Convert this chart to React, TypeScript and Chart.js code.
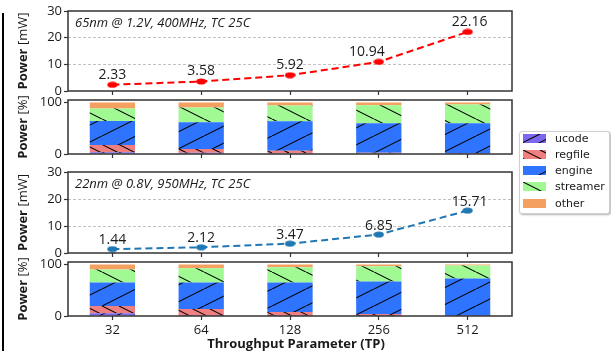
import React, { useEffect, useRef } from 'react';
import { Chart, registerables } from 'chart.js';

Chart.register(...registerables);

// ---------------- data ----------------
const categories = ['32', '64', '128', '256', '512'];
const powerTicks = [0, 10, 20, 30];
const shareTicks = [0, 100];

const power65nm = [2.33, 3.58, 5.92, 10.94, 22.16];
const power22nm = [1.44, 2.12, 3.47, 6.85, 15.71];

const componentNames = ['ucode', 'regfile', 'engine', 'streamer', 'other'];

const ucode65 = [3.5, 2.5, 1.5, 1.0, 0.5];
const regfile65 = [13.8, 7.0, 4.7, 1.5, 0.8];
const engine65 = [46.8, 52.0, 57.3, 57.1, 58.3];
const streamer65 = [24.4, 29.0, 30.7, 35.3, 36.6];
const other65 = [11.5, 9.5, 5.8, 5.1, 3.8];

const ucode22 = [5.5, 0.5, 0.5, 0.3, 0.1];
const regfile22 = [14.0, 13.2, 7.2, 3.6, 0.5];
const engine22 = [45.7, 51.6, 57.5, 63.2, 72.3];
const streamer22 = [25.0, 27.6, 29.6, 29.7, 25.1];
const other22 = [9.8, 7.1, 5.2, 3.2, 2.0];

const note65 = '65nm @ 1.2V, 400MHz, TC 25C';
const note22 = '22nm @ 0.8V, 950MHz, TC 25C';

// ---------------- styles ----------------
const W = 611;
const H = 351;
const FAM = "'Open Sans', sans-serif";
const TXT = '#1a1a1a';
const AX = '#333333';
const componentColors = ['#7b68ee', '#f08080', '#2f74ff', '#a0f993', '#f4a060'];
const componentHatches = ['//', '\\\\', '/', '\\', ''];
const lineRed = '#ff0000';
const lineBlue = '#1f77b4';

function makeFill(ctx: CanvasRenderingContext2D, color: string, hatch: string): any {
  if (!hatch) return color;
  const tw = 34;
  const th = 17;
  const c = document.createElement('canvas');
  c.width = tw;
  c.height = th;
  const g = c.getContext('2d')!;
  g.fillStyle = color;
  g.fillRect(0, 0, tw, th);
  g.strokeStyle = '#000';
  g.lineWidth = 1.1;
  const n = hatch.length;
  const step = tw / n;
  const rising = hatch[0] === '/';
  g.beginPath();
  for (let k = -n - 1; k <= n + 1; k++) {
    const x0 = k * step;
    if (rising) {
      g.moveTo(x0, th);
      g.lineTo(x0 + tw, 0);
    } else {
      g.moveTo(x0, 0);
      g.lineTo(x0 + tw, th);
    }
  }
  g.stroke();
  return ctx.createPattern(c, 'repeat');
}

function makeMarker(color: string): HTMLCanvasElement {
  const c = document.createElement('canvas');
  c.width = 11;
  c.height = 7;
  const g = c.getContext('2d')!;
  g.fillStyle = color;
  g.beginPath();
  g.ellipse(5.5, 3.5, 5.2, 3.1, 0, 0, Math.PI * 2);
  g.fill();
  return c;
}

const decor = {
  id: 'decor',
  afterDatasetsDraw(chart: any, _args: any, opts: any) {
    const { ctx, chartArea: a } = chart;
    ctx.save();
    // frame
    ctx.strokeStyle = AX;
    ctx.lineWidth = 1.5;
    ctx.strokeRect(a.left, a.top, a.right - a.left, a.bottom - a.top);
    ctx.fillStyle = TXT;
    // value labels
    if (opts.values) {
      const meta = chart.getDatasetMeta(0);
      ctx.font = `14px ${FAM}`;
      ctx.textAlign = 'center';
      ctx.textBaseline = 'alphabetic';
      meta.data.forEach((p: any, i: number) => {
        const dx = opts.dx ? opts.dx[i] : 0;
        ctx.fillText(opts.values[i].toFixed(2), p.x + dx, p.y - opts.dy);
      });
    }
    // note
    if (opts.note) {
      ctx.font = `italic 13px ${FAM}`;
      ctx.textAlign = 'left';
      ctx.textBaseline = 'alphabetic';
      ctx.fillText(opts.note, a.left + 7, a.top + 16);
    }
    // x title
    if (opts.xTitle) {
      ctx.font = `bold 13px ${FAM}`;
      ctx.textAlign = 'center';
      ctx.textBaseline = 'middle';
      ctx.fillText(opts.xTitle, (a.left + a.right) / 2 + 6, 344);
    }
    // y title (bold "Power" + regular unit)
    if (opts.unit) {
      ctx.translate(23, (a.top + a.bottom) / 2);
      ctx.rotate(-Math.PI / 2);
      const b = `bold 13px ${FAM}`;
      const r = `13px ${FAM}`;
      ctx.font = b;
      const w1 = ctx.measureText('Power ').width;
      ctx.font = r;
      const w2 = ctx.measureText(opts.unit).width;
      const x0 = -(w1 + w2) / 2;
      ctx.textAlign = 'left';
      ctx.textBaseline = 'middle';
      ctx.font = b;
      ctx.fillText('Power ', x0, 0);
      ctx.font = r;
      ctx.fillText(opts.unit, x0 + w1, 0);
    }
    ctx.restore();
  },
};

function xScale(axisHeight: number, showLabels: boolean, stacked: boolean) {
  return {
    type: 'category',
    offset: true,
    stacked,
    grid: {
      display: true,
      offset: false,
      drawOnChartArea: false,
      drawTicks: true,
      tickLength: 4,
      tickColor: AX,
      tickWidth: 1.2,
    },
    border: { display: false },
    ticks: {
      display: showLabels,
      font: { family: FAM, size: 13 },
      color: TXT,
      padding: 2,
      maxRotation: 0,
      autoSkip: false,
    },
    afterFit: (s: any) => {
      s.height = axisHeight;
    },
  };
}

function yPowerScale() {
  return {
    min: 0,
    max: 30,
    afterBuildTicks: (s: any) => {
      s.ticks = powerTicks.map((v) => ({ value: v }));
    },
    grid: {
      color: (c: any) =>
        c.tick && c.tick.value > 0 && c.tick.value < 30 ? '#c2c2c2' : 'rgba(0,0,0,0)',
      lineWidth: 1,
      drawTicks: true,
      tickLength: 4,
      tickColor: AX,
      tickWidth: 1.2,
      tickBorderDash: [],
    },
    border: { display: false, dash: [3, 2] },
    ticks: { font: { family: FAM, size: 13 }, color: TXT, padding: 2 },
    afterFit: (s: any) => {
      s.width = 68;
    },
  };
}

function yShareScale() {
  return {
    min: 0,
    max: 105,
    stacked: true,
    afterBuildTicks: (s: any) => {
      s.ticks = shareTicks.map((v) => ({ value: v }));
    },
    grid: {
      drawOnChartArea: false,
      drawTicks: true,
      tickLength: 4,
      tickColor: AX,
      tickWidth: 1.2,
    },
    border: { display: false },
    ticks: { font: { family: FAM, size: 13 }, color: TXT, padding: 2 },
    afterFit: (s: any) => {
      s.width = 68;
    },
  };
}

function lineConfig(
  values: number[],
  color: string,
  top: number,
  bottom: number,
  note: string,
  dy: number,
  dx: number[]
): any {
  return {
    type: 'line',
    data: {
      labels: categories,
      datasets: [
        {
          data: values,
          borderColor: color,
          backgroundColor: color,
          borderWidth: 2,
          borderDash: [7, 4],
          pointStyle: makeMarker(color),
          pointRadius: 5,
          pointHoverRadius: 5,
          tension: 0,
          fill: false,
        },
      ],
    },
    options: {
      animation: false,
      responsive: false,
      events: [],
      layout: { padding: { top, bottom, left: 0, right: 99 } },
      plugins: {
        legend: { display: false },
        tooltip: { enabled: false },
        decor: { values, note, unit: '[mW]', dy, dx },
      },
      scales: { x: xScale(5, false, false), y: yPowerScale() },
    },
    plugins: [decor],
  };
}

function barConfig(
  ctx: CanvasRenderingContext2D,
  series: number[][],
  top: number,
  bottom: number,
  axisHeight: number,
  showLabels: boolean,
  xTitle: string
): any {
  return {
    type: 'bar',
    data: {
      labels: categories,
      datasets: series.map((d, i) => ({
        label: componentNames[i],
        data: d,
        backgroundColor: makeFill(ctx, componentColors[i], componentHatches[i]),
        borderWidth: 0,
        stack: 's',
        barPercentage: 0.51,
        categoryPercentage: 1,
      })),
    },
    options: {
      animation: false,
      responsive: false,
      events: [],
      layout: { padding: { top, bottom, left: 0, right: 99 } },
      plugins: {
        legend: { display: false },
        tooltip: { enabled: false },
        decor: { unit: '[%]', xTitle },
      },
      scales: { x: xScale(axisHeight, showLabels, true), y: yShareScale() },
    },
    plugins: [decor],
  };
}

const canvasStyle: React.CSSProperties = { position: 'absolute', left: 0, top: 0 };

export default function App() {
  const c1 = useRef<HTMLCanvasElement>(null);
  const c2 = useRef<HTMLCanvasElement>(null);
  const c3 = useRef<HTMLCanvasElement>(null);
  const c4 = useRef<HTMLCanvasElement>(null);
  const swatches = useRef<(HTMLCanvasElement | null)[]>([]);

  useEffect(() => {
    const charts: Chart[] = [];
    const ctx1 = c1.current!.getContext('2d')!;
    const ctx2 = c2.current!.getContext('2d')!;
    const ctx3 = c3.current!.getContext('2d')!;
    const ctx4 = c4.current!.getContext('2d')!;
    charts.push(
      new Chart(ctx1, lineConfig(power65nm, lineRed, 11, H - 91 - 5, note65, 6, [0, 0, 0, -12, 2]))
    );
    charts.push(
      new Chart(
        ctx2,
        barConfig(ctx2, [ucode65, regfile65, engine65, streamer65, other65], 100, H - 154 - 5, 5, false, '')
      )
    );
    charts.push(
      new Chart(ctx3, lineConfig(power22nm, lineBlue, 172, H - 253 - 5, note22, 5, [0, 0, 0, 0, 2]))
    );
    charts.push(
      new Chart(
        ctx4,
        barConfig(
          ctx4,
          [ucode22, regfile22, engine22, streamer22, other22],
          262,
          0,
          H - 316,
          true,
          'Throughput Parameter (TP)'
        )
      )
    );
    swatches.current.forEach((cv, i) => {
      if (!cv) return;
      const g = cv.getContext('2d')!;
      g.clearRect(0, 0, cv.width, cv.height);
      g.fillStyle = makeFill(g, componentColors[i], componentHatches[i]);
      g.fillRect(0, 0, cv.width, cv.height);
    });
    return () => charts.forEach((c) => c.destroy());
  }, []);

  return (
    <div style={{ position: 'absolute', left: 0, top: 0, width: W, height: H, background: '#fff', overflow: 'hidden' }}>
      <div style={{ position: 'absolute', left: 2, top: 13, width: 2, height: H - 13, background: '#000' }} />
      <canvas ref={c1} width={W} height={H} style={canvasStyle} />
      <canvas ref={c2} width={W} height={H} style={canvasStyle} />
      <canvas ref={c3} width={W} height={H} style={canvasStyle} />
      <canvas ref={c4} width={W} height={H} style={canvasStyle} />
      <div
        style={{
          position: 'absolute',
          left: 519,
          top: 131,
          width: 89,
          height: 81,
          border: '1px solid #cfcfcf',
          borderRadius: 3,
          background: '#fff',
          boxShadow: '1px 1px 2px rgba(0,0,0,0.3)',
        }}
      >
        {componentNames.map((name, i) => (
          <div key={name} style={{ position: 'absolute', left: 0, top: 1.5 + i * 16.3, width: 89, height: 9 }}>
            <canvas
              ref={(el) => {
                swatches.current[i] = el;
              }}
              width={23}
              height={9}
              style={{ position: 'absolute', left: 3, top: 0 }}
            />
            <span
              style={{
                position: 'absolute',
                left: 35,
                top: -2,
                fontFamily: "'DejaVu Sans', sans-serif",
                fontSize: 11,
                lineHeight: '13px',
                color: TXT,
                whiteSpace: 'nowrap',
              }}
            >
              {name}
            </span>
          </div>
        ))}
      </div>
    </div>
  );
}
